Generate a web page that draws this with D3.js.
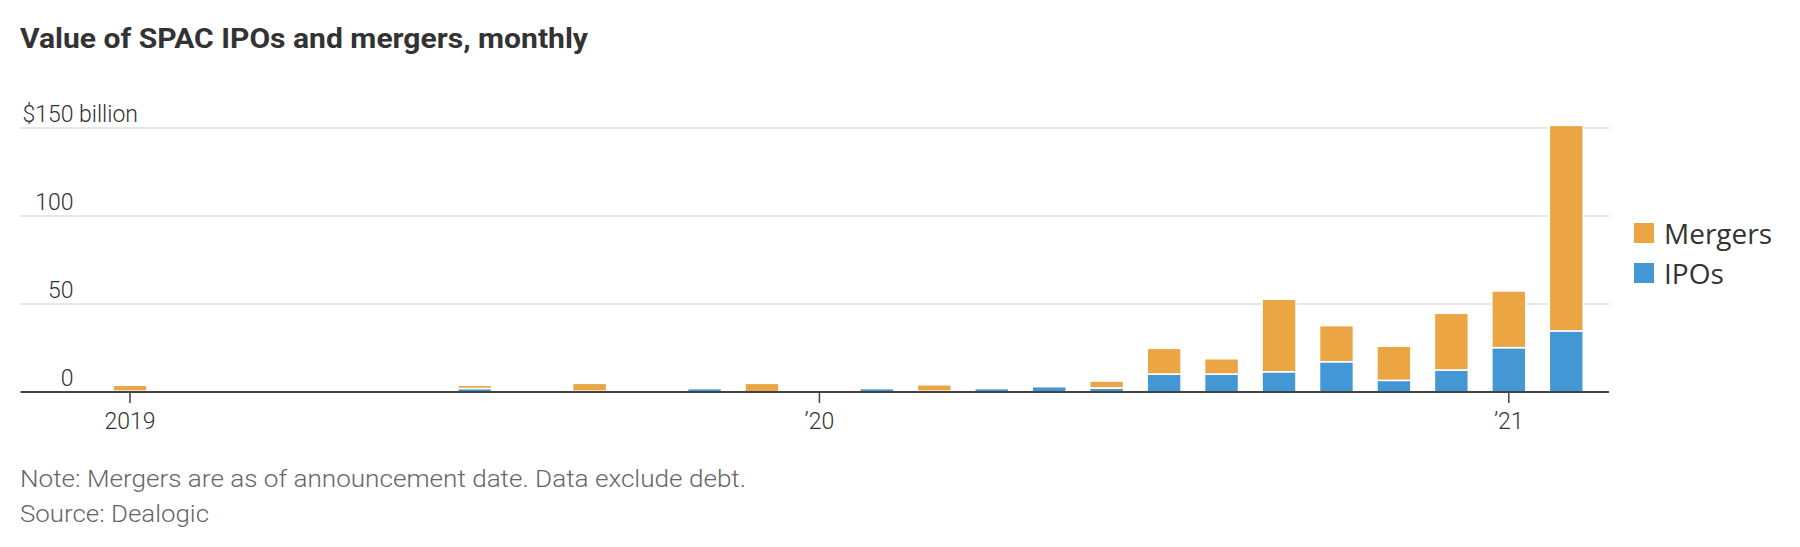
<!DOCTYPE html>
<html>
<head>
<meta charset="utf-8">
<script src="https://cdn.jsdelivr.net/npm/d3@7"></script>
<style>
  body { margin: 0; background: #fff; }
  svg { display: block; }
</style>
</head>
<body>
<div id="chart"></div>
<script>
var width = 1800
var height = 547

// monthly, Jan 2019 .. Feb 2021, $ billion
var months = ["2019-01","2019-02","2019-03","2019-04","2019-05","2019-06","2019-07","2019-08","2019-09","2019-10","2019-11","2019-12",
              "2020-01","2020-02","2020-03","2020-04","2020-05","2020-06","2020-07","2020-08","2020-09","2020-10","2020-11","2020-12",
              "2021-01","2021-02"]
var ipos    = [0.5,0,0,0,0,0,2.0,0,0.5,0,1.9,0, 0,1.9,0.5,1.9,3.0,2.3,10.2,10.2,11.5,17.2,6.6,12.5, 25.2,34.7]
var mergers = [3.3,0,0,0,0,0,1.8,0,4.4,0,0,4.9, 0,0,3.6,0,0,3.9,14.6,8.7,41.2,20.5,19.4,32.2, 32.2,116.8]
var yTicks = [0, 50, 100, 150]
var xTickMonths = ["2019-01","2020-01","2021-01"]
var xTickLabels = ["2019", "\u201920", "\u201921"]
var seriesKeys = ["ipos", "mergers"]
var seriesNames = {ipos: "IPOs", mergers: "Mergers"}
var colors = {ipos: "#4297d4", mergers: "#eba543"}

var table = months.map(function(m, i){ return {month: m, ipos: ipos[i], mergers: mergers[i]} })

var svg = d3.select("#chart").append("svg").attr("width", width).attr("height", height)

var x = d3.scaleBand().domain(months).range([101.3, 1595]).paddingInner(0.41).paddingOuter(0.205)
var y = d3.scaleLinear().domain([0, 150]).range([392, 128])

// title
svg.append("text").attr("x", 20).attr("y", 48)
    .attr("font-family", "Roboto, sans-serif").attr("font-weight", 700).attr("font-size", 28)
    .attr("textLength", 568).attr("lengthAdjust", "spacingAndGlyphs")
    .attr("fill", "#333").text("Value of SPAC IPOs and mergers, monthly")

// gridlines
svg.append("g").selectAll("line").data(yTicks.filter(function(d){ return d > 0 }))
    .enter().append("line")
    .attr("x1", 20.5).attr("x2", 1609)
    .attr("y1", function(d){ return y(d) }).attr("y2", function(d){ return y(d) })
    .attr("stroke", "#e6e6e6").attr("stroke-width", 2)

// y labels
var yl = svg.append("g")
yl.selectAll("text").data(yTicks).enter().append("text")
    .attr("x", 73.5).attr("y", function(d){ return y(d) - 6 })
    .attr("text-anchor", "end")
    .attr("font-family", "Roboto, sans-serif").attr("font-weight", 300).attr("font-size", 23)
    .attr("fill", "#333")
    .text(function(d){ return d === 150 ? "$150" : d })
yl.append("text").attr("x", 79).attr("y", y(150) - 6)
    .attr("font-family", "Roboto, sans-serif").attr("font-weight", 300).attr("font-size", 23)
    .attr("fill", "#333").text("billion")

// bars
var stacked = d3.stack().keys(seriesKeys)(table)
svg.append("g").selectAll("g").data(stacked).enter().append("g")
    .attr("fill", function(d){ return colors[d.key] })
    .selectAll("rect").data(function(d){ return d.filter(function(p){ return p[1] - p[0] > 0 }) })
    .enter().append("rect")
    .attr("x", function(d){ return x(d.data.month) })
    .attr("width", x.bandwidth())
    .attr("y", function(d){ return y(d[1]) })
    .attr("height", function(d){ return y(d[0]) - y(d[1]) })
    .attr("stroke", "#fff").attr("stroke-width", 1.5)

// x axis
var xAxis = d3.axisBottom(x).tickValues(xTickMonths)
    .tickFormat(function(d){ return xTickLabels[xTickMonths.indexOf(d)] })
    .tickSize(11).tickSizeOuter(0).tickPadding(10)
var gx = svg.append("g").attr("transform", "translate(0," + y(0) + ")").call(xAxis)
gx.select(".domain").remove()
gx.selectAll(".tick line").attr("stroke", "#444").attr("stroke-width", 1.5)
gx.selectAll(".tick text").attr("font-family", "Roboto, sans-serif").attr("font-weight", 300)
    .attr("font-size", 23).attr("fill", "#333")
svg.append("line").attr("x1", 20.5).attr("x2", 1609).attr("y1", y(0)).attr("y2", y(0))
    .attr("stroke", "#444").attr("stroke-width", 2)

// legend
var legend = svg.append("g").attr("transform", "translate(1634,223)")
var li = legend.selectAll("g").data(["mergers", "ipos"]).enter().append("g")
    .attr("transform", function(d, i){ return "translate(0," + (i * 40) + ")" })
li.append("rect").attr("width", 20).attr("height", 20).attr("fill", function(d){ return colors[d] })
li.append("text").attr("x", 30).attr("y", 20.5)
    .attr("font-family", "'Open Sans', sans-serif").attr("font-size", 28).attr("fill", "#333")
    .text(function(d){ return seriesNames[d] })

// notes
svg.append("text").attr("x", 20).attr("y", 487)
    .attr("font-family", "Roboto, sans-serif").attr("font-weight", 300).attr("font-size", 23)
    .attr("textLength", 726).attr("lengthAdjust", "spacingAndGlyphs")
    .attr("fill", "#666").text("Note: Mergers are as of announcement date. Data exclude debt.")
svg.append("text").attr("x", 20).attr("y", 522)
    .attr("font-family", "Roboto, sans-serif").attr("font-weight", 300).attr("font-size", 23)
    .attr("textLength", 189).attr("lengthAdjust", "spacingAndGlyphs")
    .attr("fill", "#666").text("Source: Dealogic")
</script>
</body>
</html>
